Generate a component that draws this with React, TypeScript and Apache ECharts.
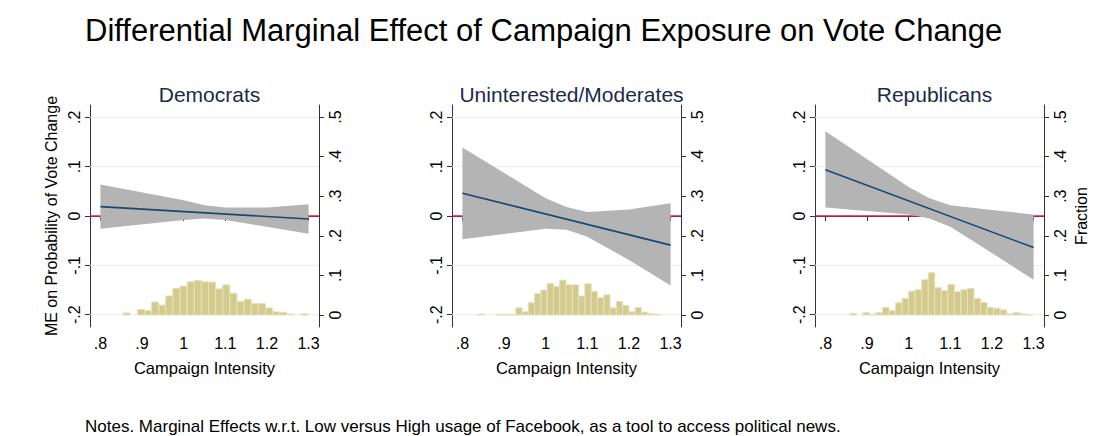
import { useEffect, useRef } from 'react'
import * as echarts from 'echarts'

// ─── data ───
const PANELS = ['Democrats', 'Uninterested/Moderates', 'Republicans']
const X_TICKS = [0.8, 0.9, 1.0, 1.1, 1.2, 1.3]
const Y_TICKS = [-0.2, -0.1, 0, 0.1, 0.2]
const F_TICKS = [0, 0.1, 0.2, 0.3, 0.4, 0.5]
const X_RANGE = [0.775, 1.325]

const LINE_X = [0.8, 1.3]
const LINE_Y = [
  [0.019, -0.006],
  [0.046, -0.059],
  [0.094, -0.064],
]

const BAND_X = [0.8, 1.0, 1.05, 1.1, 1.2, 1.3]
const BAND_HI = [
  [0.064, 0.032, 0.022, 0.017, 0.017, 0.024],
  [0.139, 0.036, 0.018, 0.008, 0.013, 0.026],
  [0.172, 0.059, 0.036, 0.022, 0.012, 0.003],
]
const BAND_LO = [
  [-0.026, -0.008, -0.005, -0.008, -0.022, -0.036],
  [-0.047, -0.026, -0.028, -0.042, -0.089, -0.141],
  [0.017, 0.003, -0.005, -0.022, -0.075, -0.129],
]

// histogram: first bin centre, bin width, fractions
const HIST_START = [0.863, 0.845, 0.8665]
const HIST_BIN = [0.0171, 0.0151, 0.0157]
const HIST = [
  [0.005, 0, 0.014, 0.011, 0.033, 0.025, 0.048, 0.067, 0.073, 0.084, 0.087, 0.084, 0.083,
    0.066, 0.076, 0.055, 0.034, 0.040, 0.029, 0.029, 0.018, 0.008, 0.007, 0.002, 0, 0.003],
  [0.0025, 0, 0, 0.002, 0.002, 0.001, 0.018, 0.008, 0.031, 0.054, 0.063, 0.080, 0.072, 0.088,
    0.076, 0.076, 0.048, 0.079, 0.060, 0.044, 0.051, 0.018, 0.034, 0.024, 0.008, 0.019, 0.007,
    0.003, 0.002],
  [0.004, 0, 0.006, 0.002, 0.006, 0.019, 0.011, 0.031, 0.042, 0.060, 0.064, 0.089, 0.107,
    0.069, 0.062, 0.077, 0.059, 0.064, 0.067, 0.042, 0.032, 0.019, 0.017, 0.013, 0.003, 0.006,
    0.003, 0.001],
]

const FONT = '"Liberation Sans", Arial, sans-serif'
const AXIS = '#333333'
const LEFTS = [90, 452, 815]
const GRID_W = 229

const fmt = (v: number) => {
  if (v === 0) return '0'
  const s = String(Math.round(v * 10) / 10)
  return s.replace(/^(-?)0\./, '$1.')
}

export default function App() {
  const ref = useRef<HTMLDivElement>(null)

  useEffect(() => {
    if (!ref.current) return
    const chart = echarts.init(ref.current, null, { renderer: 'svg' })

    const grids: any[] = []
    const xAxes: any[] = []
    const yAxes: any[] = []
    const series: any[] = []
    const titles: any[] = [
      {
        text: 'Differential Marginal Effect of Campaign Exposure on Vote Change',
        left: 80, top: 10,
        textStyle: { fontFamily: FONT, fontSize: 31, fontWeight: 'normal', color: '#000' },
      },
      {
        text: 'Notes. Marginal Effects w.r.t. Low versus High usage of Facebook, as a tool to access political news.',
        left: 80, top: 413,
        textStyle: { fontFamily: FONT, fontSize: 17, fontWeight: 'normal', color: '#000' },
      },
    ]

    PANELS.forEach((name, i) => {
      grids.push({ left: LEFTS[i], top: 105, width: GRID_W, height: 222 })
      titles.push({
        text: name, left: LEFTS[i] + GRID_W / 2, top: 79, textAlign: 'center',
        textStyle: { fontFamily: FONT, fontSize: 21, fontWeight: 'normal', color: '#1a2b4c' },
      })
      xAxes.push({
        type: 'value', gridIndex: i, min: X_RANGE[0], max: X_RANGE[1],
        name: 'Campaign Intensity', nameLocation: 'middle', nameGap: 32,
        nameTextStyle: { fontFamily: FONT, fontSize: 16.5, color: '#000' },
        axisLine: { show: true, lineStyle: { color: AXIS } },
        axisTick: { show: true, customValues: X_TICKS, length: 5, lineStyle: { color: AXIS } },
        axisLabel: { customValues: X_TICKS, formatter: fmt, fontFamily: FONT, fontSize: 16, color: '#000', margin: 8 },
        splitLine: { show: false },
      })
      yAxes.push({
        type: 'value', gridIndex: i, min: -0.225, max: 0.225, position: 'left',
        name: i === 0 ? 'ME on Probability of Vote Change' : '', nameLocation: 'middle', nameGap: 31,
        nameTextStyle: { fontFamily: FONT, fontSize: 16, color: '#000' },
        axisLine: { show: true, lineStyle: { color: AXIS } },
        axisTick: { show: true, customValues: Y_TICKS, length: 5, lineStyle: { color: AXIS } },
        axisLabel: { customValues: Y_TICKS, formatter: fmt, rotate: 90, fontFamily: FONT, fontSize: 16, color: '#000', margin: 8 },
        splitLine: { show: false },
      })
      yAxes.push({
        type: 'value', gridIndex: i, min: -0.0303, max: 0.5303, position: 'right',
        name: i === 2 ? 'Fraction' : '', nameLocation: 'middle', nameGap: 29,
        nameTextStyle: { fontFamily: FONT, fontSize: 16, color: '#000' },
        axisLine: { show: true, lineStyle: { color: AXIS } },
        axisTick: { show: true, customValues: F_TICKS, length: 5, lineStyle: { color: AXIS } },
        axisLabel: { customValues: F_TICKS, formatter: fmt, rotate: 90, fontFamily: FONT, fontSize: 16, color: '#000', margin: 8 },
        splitLine: { show: false },
      })
      const yL = i * 2
      const yR = i * 2 + 1

      // gridlines at left ticks
      Y_TICKS.filter(v => v !== 0).forEach(v => {
        series.push({
          type: 'line', xAxisIndex: i, yAxisIndex: yL, z: 1, silent: true, symbol: 'none',
          data: X_RANGE.map(x => [x, v]),
          lineStyle: { color: '#e6eef0', width: 1 },
        })
      })
      // zero reference line (under the band)
      series.push({
        type: 'line', xAxisIndex: i, yAxisIndex: yL, z: 2, silent: true, symbol: 'none',
        data: X_RANGE.map(x => [x, 0]),
        lineStyle: { color: '#d31f4f', width: 1.5 },
      })

      // histogram
      series.push({
        type: 'custom', xAxisIndex: i, yAxisIndex: yR, z: 2,
        data: HIST[i].map((v, k) => [HIST_START[i] + k * HIST_BIN[i], v]),
        renderItem: (_p: any, api: any) => {
          const c = api.value(0), v = api.value(1)
          if (!v) return null
          const a = api.coord([c - HIST_BIN[i] / 2, v])
          const b = api.coord([c + HIST_BIN[i] / 2, 0])
          return {
            type: 'rect',
            shape: { x: a[0], y: a[1], width: b[0] - a[0], height: b[1] - a[1] },
            style: { fill: '#d3cb8e', stroke: '#e6e1bc', lineWidth: 1 },
          }
        },
      })

      // CI band
      const poly = [
        ...BAND_X.map((x, k) => [x, BAND_HI[i][k]]),
        ...BAND_X.map((x, k) => [x, BAND_LO[i][k]]).reverse(),
      ]
      series.push({
        type: 'custom', xAxisIndex: i, yAxisIndex: yL, z: 3,
        data: [0],
        renderItem: (_p: any, api: any) => ({
          type: 'polygon',
          shape: { points: poly.map(p => api.coord(p)) },
          style: { fill: '#b4b4b4', stroke: 'none' },
        }),
      })

      // marginal effect line
      series.push({
        type: 'line', xAxisIndex: i, yAxisIndex: yL, z: 4, symbol: 'none',
        data: LINE_X.map((x, k) => [x, LINE_Y[i][k]]),
        lineStyle: { color: '#1a476f', width: 1.6 },
      })
    })

    chart.setOption({
      animation: false,
      backgroundColor: '#fff',
      title: titles,
      grid: grids,
      xAxis: xAxes,
      yAxis: yAxes,
      series,
    })

    return () => chart.dispose()
  }, [])

  return <div ref={ref} style={{ position: 'absolute', left: 0, top: 0, width: 1120, height: 436 }} />
}
